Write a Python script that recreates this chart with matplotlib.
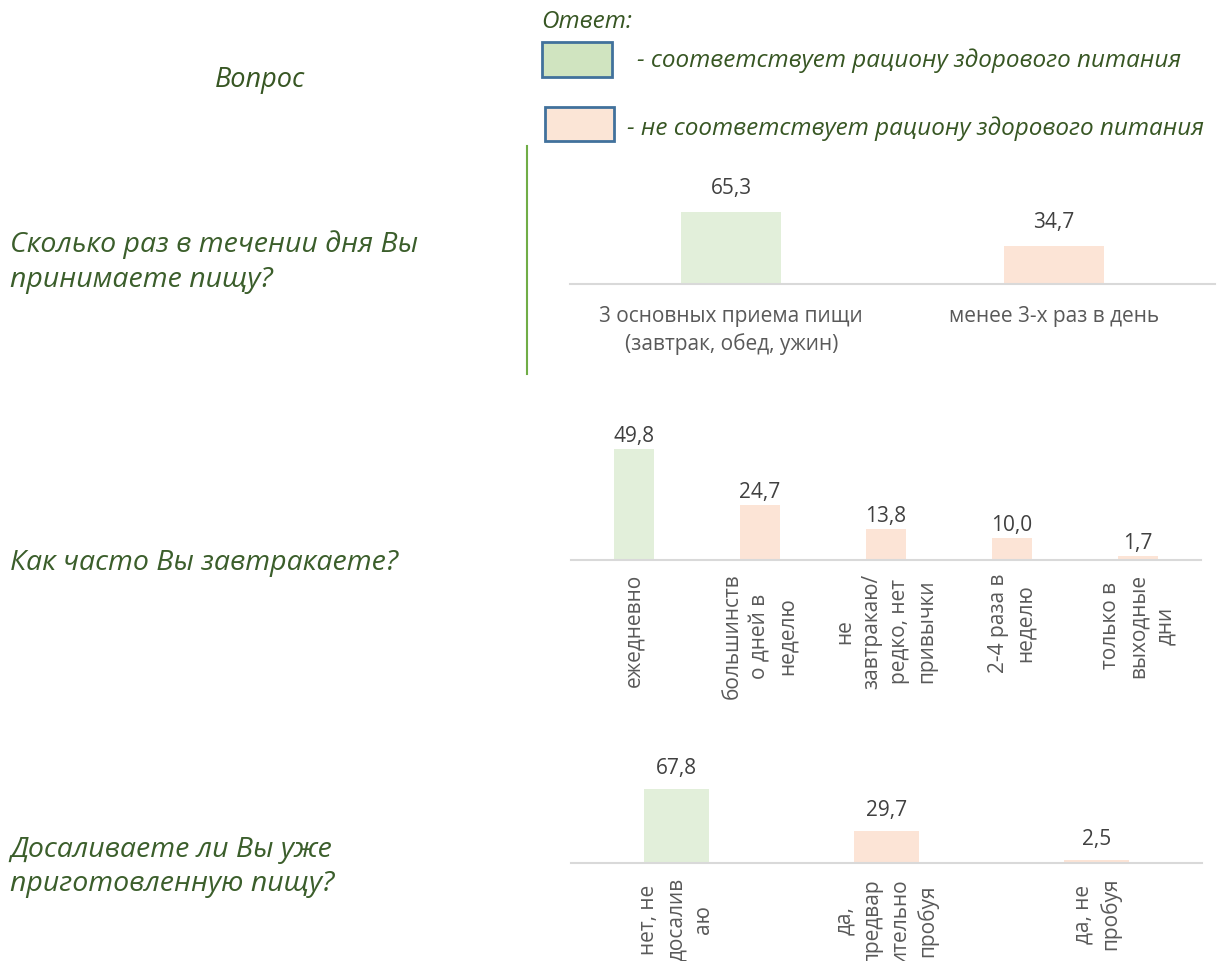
import matplotlib
matplotlib.use("Agg")
import matplotlib.pyplot as plt
from matplotlib.patches import Rectangle
from matplotlib.lines import Line2D

# data
q1_labels = ["3 основных приема пищи\n(завтрак, обед, ужин)", "менее 3-х раз в день"]
q1_values = [65.3, 34.7]
q1_healthy = [True, False]

q2_labels = ["ежедневно", "большинств\nо дней в\nнеделю", "не\nзавтракаю/\nредко, нет\nпривычки",
             "2-4 раза в\nнеделю", "только в\nвыходные\nдни"]
q2_values = [49.8, 24.7, 13.8, 10.0, 1.7]
q2_healthy = [True, False, False, False, False]

q3_labels = ["нет, не\nдосалив\nаю", "да,\nпредвар\nительно\nпробуя", "да, не\nпробуя"]
q3_values = [67.8, 29.7, 2.5]
q3_healthy = [True, False, False]

questions = ["Сколько раз в течении дня Вы\nпринимаете пищу?",
             "Как часто Вы завтракаете?",
             "Досаливаете ли Вы уже\nприготовленную пищу?"]

GREEN = "#e2efda"
PEACH = "#fce4d6"
TXT = "#3b5e2b"
W, H = 1221, 962

fig = plt.figure(figsize=(W / 100, H / 100), dpi=100)
fig.patch.set_facecolor("white")


def px_axes(x0, x1, ybase, ymax, pxper):
    h = ymax * pxper
    return fig.add_axes([x0 / W, (H - ybase) / H, (x1 - x0) / W, h / H])


def bar_chart(ax, labels, values, healthy, width, ymax, rot, off, pad):
    x = list(range(len(values)))
    cols = [GREEN if h else PEACH for h in healthy]
    bars = ax.bar(x, values, width=width, color=cols)
    ax.set_xlim(-0.5, len(values) - 0.5)
    ax.set_ylim(0, ymax)
    ax.set_xticks(x)
    ax.set_xticklabels(labels, rotation=rot, fontsize=15, color="#595959",
                       family="Open Sans", multialignment="center", linespacing=1.4)
    ax.tick_params(axis="x", length=0, pad=pad)
    ax.set_yticks([])
    for s in ["top", "right", "left"]:
        ax.spines[s].set_visible(False)
    ax.spines["bottom"].set_color("#d9d9d9")
    ax.spines["bottom"].set_linewidth(1.5)
    ax.patch.set_visible(False)
    for b, v in zip(bars, values):
        ax.annotate(f"{v:.1f}".replace(".", ","), (b.get_x() + b.get_width() / 2, v),
                    xytext=(0, off), textcoords="offset points", ha="center", va="bottom",
                    fontsize=15, color="#404040", family="Open Sans", annotation_clip=False)


ax1 = px_axes(570, 1215, 285, 85, 1.10)
bar_chart(ax1, q1_labels, q1_values, q1_healthy, 0.31, 85, 0, 10, 15)
ax2 = px_axes(571, 1201, 561, 55, 2.23)
bar_chart(ax2, q2_labels, q2_values, q2_healthy, 0.32, 55, 90, 2, 9)
ax3 = px_axes(571, 1202, 864, 75, 1.09)
bar_chart(ax3, q3_labels, q3_values, q3_healthy, 0.31, 75, 90, 8, 10)

qfont = dict(family="Open Sans", style="italic", color=TXT, fontsize=20.5)
fig.text(260 / W, 1 - 80 / H, "Вопрос", ha="center", va="center",
         family="Open Sans", style="italic", color="#375623", fontsize=19.5)
fig.text(10 / W, 1 - 262 / H, questions[0], ha="left", va="center", linespacing=1.3, **qfont)
fig.text(10 / W, 1 - 563 / H, questions[1], ha="left", va="center", **qfont)
fig.text(10 / W, 1 - 867 / H, questions[2], ha="left", va="center", linespacing=1.3, **qfont)

# legend
lfont = dict(family="Open Sans", style="italic", color="#375623", fontsize=17.5)
fig.text(541 / W, 1 - 22 / H, "Ответ:", ha="left", va="center", **lfont)
fig.patches.append(Rectangle((542 / W, 1 - 78 / H), 70 / W, 35 / H, transform=fig.transFigure,
                             facecolor="#d0e4c0", edgecolor="#41719c", linewidth=2))
fig.patches.append(Rectangle((545 / W, 1 - 142 / H), 69 / W, 34 / H, transform=fig.transFigure,
                             facecolor="#fbe5d6", edgecolor="#41719c", linewidth=2))
fig.text(637 / W, 1 - 61 / H, "- соответствует рациону здорового питания", ha="left", va="center", **lfont)
fig.text(627 / W, 1 - 129 / H, "- не соответствует рациону здорового питания", ha="left", va="center", **lfont)

fig.lines.append(Line2D([527 / W, 527 / W], [1 - 147 / H, 1 - 375 / H], transform=fig.transFigure,
                        color="#70ad47", linewidth=1.5))

fig.savefig("out.png", dpi=100)
